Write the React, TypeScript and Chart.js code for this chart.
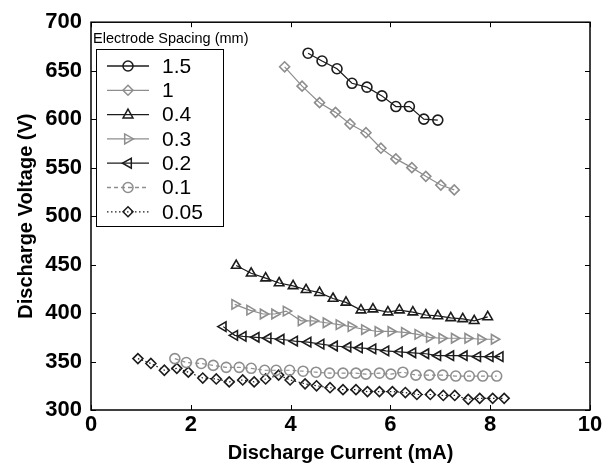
import React, { useEffect, useRef } from 'react';
import { Chart, registerables } from 'chart.js';

Chart.register(...registerables);

// ---- data ----
const seriesLabels = ['1.5', '1', '0.4', '0.3', '0.2', '0.1', '0.05'];

const x15 = [4.35, 4.63, 4.93, 5.23, 5.53, 5.83, 6.11, 6.38, 6.67, 6.95];
const y15 = [668, 660, 652, 637, 633, 624, 613, 613, 600, 599];

const x10 = [3.88, 4.23, 4.58, 4.9, 5.19, 5.51, 5.81, 6.11, 6.43, 6.71, 7.01, 7.28];
const y10 = [654, 634, 617, 607, 595, 586, 570, 559, 550, 541, 532, 527];

const x04 = [2.91, 3.21, 3.5, 3.77, 4.05, 4.31, 4.58, 4.85, 5.11, 5.41, 5.65, 5.95, 6.18, 6.45, 6.71, 6.95, 7.21, 7.45, 7.68, 7.95];
const y04 = [449, 441, 436, 431, 428, 424, 421, 415, 411, 403, 404, 401, 403, 401, 398, 397, 395, 394, 392, 396];

const x03 = [2.88, 3.18, 3.45, 3.68, 3.91, 4.21, 4.45, 4.71, 4.97, 5.21, 5.48, 5.75, 6.01, 6.28, 6.55, 6.78, 7.03, 7.28, 7.55, 7.81, 8.08];
const y03 = [409, 403, 399, 399, 402, 392, 392, 390, 388, 386, 383, 381, 381, 380, 378, 375, 374, 374, 374, 373, 373];

const x02 = [2.65, 2.88, 3.05, 3.31, 3.55, 3.81, 4.08, 4.35, 4.61, 4.88, 5.15, 5.38, 5.65, 5.91, 6.18, 6.45, 6.71, 6.95, 7.21, 7.48, 7.75, 8.0, 8.2];
const y02 = [386, 377, 376, 375, 374, 373, 371, 370, 368, 366, 365, 364, 363, 361, 360, 359, 358, 356, 356, 356, 355, 355, 355];

const x01 = [1.68, 1.91, 2.21, 2.45, 2.71, 2.97, 3.21, 3.48, 3.71, 3.98, 4.25, 4.51, 4.78, 5.05, 5.31, 5.51, 5.78, 6.01, 6.25, 6.51, 6.78, 7.05, 7.31, 7.58, 7.85, 8.13];
const y01 = [353, 349, 348, 346, 344, 344, 343, 341, 341, 341, 340, 339, 338, 338, 338, 337, 338, 337, 339, 336, 336, 336, 335, 335, 335, 335];

const x005 = [0.94, 1.2, 1.47, 1.72, 1.95, 2.24, 2.51, 2.77, 3.04, 3.27, 3.5, 3.76, 3.99, 4.29, 4.52, 4.79, 5.05, 5.31, 5.54, 5.78, 6.04, 6.3, 6.53, 6.8, 7.06, 7.29, 7.56, 7.79, 8.05, 8.28];
const y005 = [353, 348, 341, 343, 339, 333, 332, 329, 331, 329, 332, 336, 331, 327, 325, 323, 321, 321, 319, 319, 319, 318, 316, 316, 315, 315, 311, 312, 312, 312];

const xTicks = [0, 2, 4, 6, 8, 10];
const yTicks = [300, 350, 400, 450, 500, 550, 600, 650, 700];

const legendTitle = 'Electrode Spacing (mm)';
const xTitle = 'Discharge Current (mA)';
const yTitle = 'Discharge Voltage (V)';

const DARK = '#1c1c1c';
const GRAY = '#8e8e8e';
const FONT = "'Liberation Sans', Arial, sans-serif";

const seriesX = [x15, x10, x04, x03, x02, x01, x005];
const seriesY = [y15, y10, y04, y03, y02, y01, y005];
const seriesStyle = [
  { color: DARK, point: 'circle', rot: 0, dash: [] as number[], r: 5 },
  { color: GRAY, point: 'rectRot', rot: 0, dash: [] as number[], r: 5 },
  { color: DARK, point: 'triangle', rot: 0, dash: [] as number[], r: 5.5 },
  { color: GRAY, point: 'triangle', rot: 90, dash: [] as number[], r: 5.5 },
  { color: DARK, point: 'triangle', rot: 270, dash: [] as number[], r: 5.5 },
  { color: GRAY, point: 'circle', rot: 0, dash: [4, 3], r: 5 },
  { color: DARK, point: 'rectRot', rot: 0, dash: [1.5, 2.5], r: 5 },
];

function drawMarker(ctx: CanvasRenderingContext2D, style: string, r: number, rot: number, x: number, y: number) {
  ctx.save();
  ctx.translate(x, y);
  ctx.rotate((rot * Math.PI) / 180);
  ctx.beginPath();
  if (style === 'circle') {
    ctx.arc(0, 0, r, 0, Math.PI * 2);
  } else if (style === 'rectRot') {
    ctx.moveTo(0, -r); ctx.lineTo(r, 0); ctx.lineTo(0, r); ctx.lineTo(-r, 0); ctx.closePath();
  } else {
    ctx.moveTo(0, -r); ctx.lineTo(r * 0.9, r * 0.6); ctx.lineTo(-r * 0.9, r * 0.6); ctx.closePath();
  }
  ctx.stroke();
  ctx.restore();
}

const boxPlugin = {
  id: 'boxAndLegend',
  afterDatasetsDraw(chart: any) {
    const { ctx, chartArea: a, scales } = chart;
    ctx.save();
    ctx.strokeStyle = '#000';
    ctx.lineWidth = 1.5;
    ctx.setLineDash([]);
    ctx.strokeRect(a.left, a.top, a.right - a.left, a.bottom - a.top);
    const tl = 5;
    ctx.lineWidth = 1;
    ctx.beginPath();
    xTicks.forEach((v) => {
      const px = Math.round(scales.x.getPixelForValue(v)) + 0.5;
      ctx.moveTo(px, a.bottom); ctx.lineTo(px, a.bottom - tl);
      ctx.moveTo(px, a.top); ctx.lineTo(px, a.top + tl);
    });
    yTicks.forEach((v) => {
      const py = Math.round(scales.y.getPixelForValue(v)) + 0.5;
      ctx.moveTo(a.left, py); ctx.lineTo(a.left + tl, py);
      ctx.moveTo(a.right, py); ctx.lineTo(a.right - tl, py);
    });
    ctx.stroke();

    // legend
    const bx = 96.5, by = 49.5, bw = 127, bh = 177;
    ctx.fillStyle = '#fff';
    ctx.fillRect(bx, by, bw, bh);
    ctx.strokeStyle = '#000';
    ctx.lineWidth = 1;
    ctx.strokeRect(bx, by, bw, bh);

    ctx.fillStyle = '#000';
    ctx.font = `14.5px ${FONT}`;
    ctx.textBaseline = 'alphabetic';
    ctx.textAlign = 'left';
    ctx.fillText(legendTitle, 93, 43);

    ctx.font = `21px ${FONT}`;
    ctx.textBaseline = 'middle';
    seriesLabels.forEach((lab, i) => {
      const st = seriesStyle[i];
      const y = 66 + i * 24.3;
      ctx.strokeStyle = st.color;
      ctx.lineWidth = 1.3;
      ctx.setLineDash(st.dash);
      ctx.beginPath();
      ctx.moveTo(107, y); ctx.lineTo(149, y);
      ctx.stroke();
      ctx.setLineDash([]);
      ctx.lineWidth = 1.5;
      drawMarker(ctx, st.point, st.r, st.rot, 128, y);
      ctx.fillStyle = '#000';
      ctx.fillText(lab, 162, y + 1);
    });
    ctx.restore();
  },
};

export default function App() {
  const ref = useRef<HTMLCanvasElement>(null);
  useEffect(() => {
    if (!ref.current) return;
    const datasets = seriesLabels.map((lab, i) => {
      const st = seriesStyle[i];
      return {
        label: lab,
        data: seriesX[i].map((x, j) => ({ x, y: seriesY[i][j] })),
        showLine: true,
        borderColor: st.color,
        borderWidth: 1.2,
        borderDash: st.dash,
        pointStyle: st.point,
        pointRotation: st.rot,
        pointRadius: st.r,
        pointBorderColor: st.color,
        pointBorderWidth: 1.6,
        pointBackgroundColor: 'rgba(0,0,0,0)',
        tension: 0,
      };
    });
    const tickFont = { family: FONT, size: 22, weight: 'bold' as const };
    const chart = new Chart(ref.current, {
      type: 'scatter',
      data: { datasets: datasets as any },
      options: {
        animation: false,
        responsive: false,
        layout: { padding: { top: 17, right: 24, left: 0, bottom: 0 } },
        plugins: { legend: { display: false }, tooltip: { enabled: false } },
        scales: {
          x: {
            type: 'linear',
            min: 0,
            max: 10,
            afterBuildTicks: (s: any) => { s.ticks = xTicks.map((v) => ({ value: v })); },
            ticks: { font: tickFont, color: '#000', padding: 2, maxRotation: 0 },
            grid: { display: false, drawTicks: false },
            border: { display: false },
            title: { display: true, text: xTitle, color: '#000', font: { family: FONT, size: 20, weight: 'bold' }, padding: { top: 0, bottom: 3 } },
            afterFit: (s: any) => { s.height = 58; },
          },
          y: {
            type: 'linear',
            min: 300,
            max: 700,
            afterBuildTicks: (s: any) => { s.ticks = yTicks.map((v) => ({ value: v })); },
            ticks: { font: tickFont, color: '#000', padding: 9 },
            grid: { display: false, drawTicks: false },
            border: { display: false },
            title: { display: true, text: yTitle, color: '#000', font: { family: FONT, size: 20, weight: 'bold' }, padding: { top: 14, bottom: 0 } },
            afterFit: (s: any) => { s.width = 91; },
          },
        },
      },
      plugins: [boxPlugin],
    });
    return () => chart.destroy();
  }, []);
  return (
    <div style={{ position: 'absolute', left: 0, top: 0, width: 614, height: 468, background: '#fff' }}>
      <canvas ref={ref} width={614} height={468} />
    </div>
  );
}
